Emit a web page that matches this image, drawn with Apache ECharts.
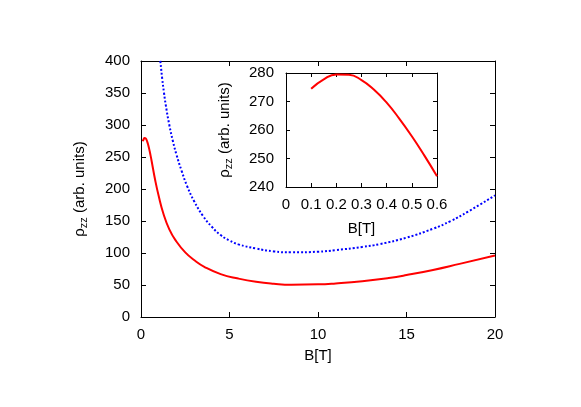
<!DOCTYPE html>
<html>
<head>
<meta charset="utf-8">
<script src="https://cdn.jsdelivr.net/npm/echarts@6/dist/echarts.min.js"></script>
<style>
  html, body { margin: 0; padding: 0; background: #fff; }
  #chart { width: 581px; height: 407px; }
</style>
</head>
<body>
<div id="chart"></div>
<script>
// values
const redB = [0.1, 0.15, 0.2, 0.25, 0.3, 0.35, 0.4, 0.45, 0.5, 0.55, 0.6, 0.8, 1.0, 1.25, 1.6, 2.0, 2.5, 3.0, 3.6, 4.5, 5.5, 6.5, 7.5, 8.5, 10, 11, 12.5, 14, 15, 16.5, 18, 20]
const redRho = [274.5, 277.8, 279.5, 279.4, 277.5, 274.1, 269.6, 264, 257.8, 251, 243.8, 214, 189, 163, 137, 118, 101, 89, 78, 67, 60, 55, 52, 50.5, 51, 52.5, 56, 61, 65.5, 73.5, 83, 96]
const blueB = [1.0, 1.1, 1.2, 1.3, 1.4, 1.6, 1.8, 2.0, 2.3, 2.6, 3.0, 3.5, 4.0, 4.5, 5.0, 5.5, 6.5, 7.5, 8.5, 10, 11, 12.5, 13.5, 15, 16.5, 17.5, 18.5, 20]
const blueRho = [425, 398, 372, 350, 331, 300, 275, 254, 228, 205, 181, 158, 141, 128, 119.5, 113.5, 107, 102.5, 101, 102, 104.5, 109.5, 114, 124, 138, 150, 165, 190]
const mainXTicks = [0, 5, 10, 15, 20]
const mainYTicks = [0, 50, 100, 150, 200, 250, 300, 350, 400]
const insetXTicks = [0, 0.1, 0.2, 0.3, 0.4, 0.5, 0.6]
const insetYTicks = [240, 250, 260, 270, 280]

const pairs = (xs, ys) => xs.map((x, i) => [x, ys[i]])
const redData = pairs(redB, redRho)
const insetData = redData.filter(p => p[0] <= 0.6)

const font = 'Liberation Sans, Arial, sans-serif'
const fs = 15
const rhoName = '{r|ρ}{s|zz}{r| (arb. units)}'
const rhoRich = {
  r: { fontSize: fs, fontFamily: font, color: '#000' },
  s: { fontSize: 11, fontFamily: font, color: '#000', padding: [8, 0, 0, 0] }
}

const axisCommon = (ticks, show) => ({
  type: 'value',
  min: ticks[0], max: ticks[ticks.length - 1],
  interval: ticks[1] - ticks[0],
  axisLine: { show: true, onZero: false, lineStyle: { color: '#000', width: 1 } },
  axisTick: { show: true, inside: true, length: 5, lineStyle: { color: '#000' } },
  splitLine: { show: false },
  axisLabel: { show: show, color: '#000', fontSize: fs, fontFamily: font }
})
const smallTick = { show: true, inside: true, length: 4, lineStyle: { color: '#000' } }

const chart = echarts.init(document.getElementById('chart'))
const option = {
  animation: false,
  backgroundColor: '#fff',
  grid: [
    { left: 141, top: 61, width: 354, height: 256 },
    { left: 286, top: 73, width: 151, height: 114, backgroundColor: '#fff', show: true, borderWidth: 0 }
  ],
  xAxis: [
    Object.assign(axisCommon(mainXTicks, true), {
      gridIndex: 0, position: 'bottom',
      name: 'B[T]', nameLocation: 'middle', nameGap: 31, nameMoveOverlap: false,
      nameTextStyle: { color: '#000', fontSize: fs, fontFamily: font },
      axisLabel: { color: '#000', fontSize: fs, fontFamily: font, margin: 10 }
    }),
    Object.assign(axisCommon(mainXTicks, false), { gridIndex: 0, position: 'top' }),
    Object.assign(axisCommon(insetXTicks, true), {
      gridIndex: 1, position: 'bottom',
      name: 'B[T]', nameLocation: 'middle', nameGap: 34, nameMoveOverlap: false,
      nameTextStyle: { color: '#000', fontSize: fs, fontFamily: font },
      axisTick: smallTick,
      axisLabel: { color: '#000', fontSize: fs, fontFamily: font, margin: 10, hideOverlap: false,
        formatter: v => v === 0 ? '0' : v.toFixed(1) }
    }),
    Object.assign(axisCommon(insetXTicks, false), { gridIndex: 1, position: 'top', axisTick: smallTick })
  ],
  yAxis: [
    Object.assign(axisCommon(mainYTicks, true), {
      gridIndex: 0, position: 'left',
      name: rhoName, nameLocation: 'middle', nameRotate: 90, nameGap: 52, nameMoveOverlap: false,
      nameTextStyle: { rich: rhoRich },
      axisLabel: { color: '#000', fontSize: fs, fontFamily: font, margin: 11 }
    }),
    Object.assign(axisCommon(mainYTicks, false), { gridIndex: 0, position: 'right' }),
    Object.assign(axisCommon(insetYTicks, true), {
      gridIndex: 1, position: 'left',
      name: rhoName, nameLocation: 'middle', nameRotate: 90, nameGap: 52, nameMoveOverlap: false,
      nameTextStyle: { rich: rhoRich },
      axisTick: smallTick,
      axisLabel: { color: '#000', fontSize: fs, fontFamily: font, margin: 12 }
    }),
    Object.assign(axisCommon(insetYTicks, false), { gridIndex: 1, position: 'right', axisTick: smallTick })
  ],
  series: [
    {
      type: 'line', xAxisIndex: 0, yAxisIndex: 0, data: redData,
      smooth: 0.5, symbol: 'none', clip: true,
      lineStyle: { color: '#ff0000', width: 2 }
    },
    {
      type: 'line', xAxisIndex: 0, yAxisIndex: 0, data: pairs(blueB, blueRho),
      smooth: 0.5, symbol: 'none', clip: true,
      lineStyle: { color: '#0000ff', width: 2, type: [2, 2] }
    },
    {
      type: 'line', xAxisIndex: 2, yAxisIndex: 2, data: insetData,
      smooth: 0.5, symbol: 'none', clip: true,
      lineStyle: { color: '#ff0000', width: 2 }
    }
  ]
}
chart.setOption(option)
window.addEventListener('resize', () => chart.resize())
</script>
</body>
</html>
